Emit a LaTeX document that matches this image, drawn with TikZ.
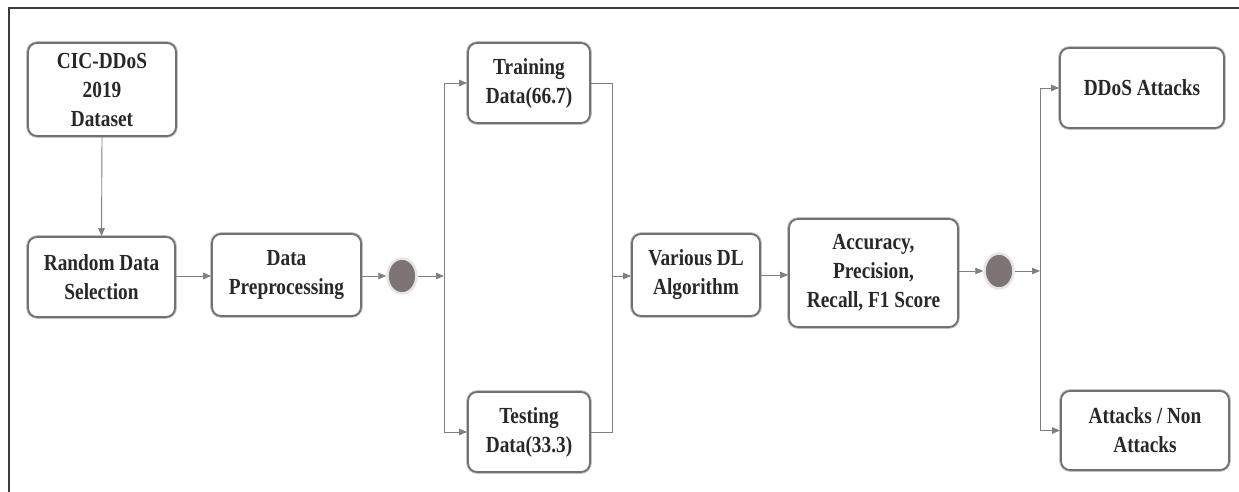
\documentclass[tikz,border=0pt]{standalone}
\usepackage{fontspec}
\setmainfont{Liberation Serif}[FakeStretch=0.84]
\usetikzlibrary{arrows.meta,shapes.geometric}
\definecolor{boxline}{RGB}{115,113,113}
\definecolor{boxhalo}{RGB}{195,193,193}
\definecolor{lineclr}{RGB}{130,127,127}
\definecolor{dotfill}{RGB}{125,117,117}
\definecolor{dothalo}{RGB}{232,228,228}
\definecolor{txt}{RGB}{40,40,40}
\definecolor{frameclr}{RGB}{60,60,60}
\tikzset{
  stepbox/.style={rectangle, rounded corners=9pt, draw=boxline, line width=1.8pt,
    preaction={draw=boxhalo, line width=3.6pt},
    fill=white, align=center, text=txt,
    font=\bfseries\fontsize{23}{29}\selectfont, inner sep=0pt},
  dot/.style={ellipse, fill=dotfill, draw=dothalo, line width=2.5pt,
    minimum width=29pt, minimum height=35pt, inner sep=0pt},
  conn/.style={draw=lineclr, line width=0.9pt},
  arr/.style={conn, -{Triangle[length=8pt,width=6.5pt]}},
}
\begin{document}
\begin{tikzpicture}[x=1pt,y=-1pt]
\useasboundingbox (0,0) rectangle (1239,492);
\draw[frameclr, line width=1.8pt] (9,492) -- (9,8) -- (1239,8);

\node[stepbox, minimum width=148pt, minimum height=93pt] (cic) at (102,89.5) {CIC-DDoS\\2019\\Dataset};
\node[stepbox, minimum width=147pt, minimum height=80pt] (rnd) at (101.5,277) {Random Data\\Selection};
\node[stepbox, minimum width=149pt, minimum height=82pt] (pre) at (286.5,275) {Data\\Preprocessing};
\node[dot] (c1) at (402,276) {};
\coordinate (s1) at (444,276);
\node[stepbox, minimum width=122pt, minimum height=80pt] (train) at (529,83) {Training\\Data(66.7)};
\node[stepbox, minimum width=122pt, minimum height=80pt] (test) at (529,432) {Testing\\Data(33.3)};
\coordinate (m1) at (612,276);
\node[stepbox, minimum width=128pt, minimum height=82pt] (dl) at (696,275) {Various DL\\Algorithm};
\node[stepbox, minimum width=169pt, minimum height=108pt] (acc) at (873.5,273) {Accuracy,\\Precision,\\Recall, F1 Score};
\node[dot] (c2) at (999,271) {};
\coordinate (s2) at (1040,271);
\node[stepbox, minimum width=164pt, minimum height=80pt] (ddos) at (1142,88) {DDoS Attacks};
\node[stepbox, minimum width=168pt, minimum height=79pt] (att) at (1145,430.5) {Attacks / Non\\Attacks};

\draw[arr] (cic.south) -- (rnd.north);
\draw[arr] (rnd.east |- 0,276) -- (pre.west |- 0,276);
\draw[arr] (pre.east |- c1) -- (c1.west);
\draw[arr] (c1.east) -- (s1);
\draw[arr] (s1) |- (train.west);
\draw[arr] (s1) |- (test.west);
\draw[conn] (train.east) -| (m1);
\draw[conn] (test.east) -| (m1);
\draw[arr] (m1) -- (dl.west |- m1);
\draw[arr] (dl.east) -- (dl.east -| acc.west);
\draw[arr] (acc.east |- c2) -- (c2.west);
\draw[arr] (c2.east) -- (s2);
\draw[arr] (s2) |- (ddos.west);
\draw[arr] (s2) |- (att.west);
\end{tikzpicture}
\end{document}
